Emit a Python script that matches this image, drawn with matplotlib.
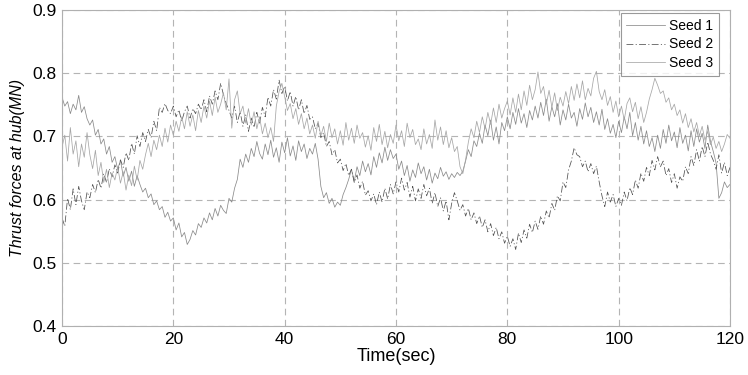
import numpy as np
import matplotlib
matplotlib.use('Agg')
import matplotlib.pyplot as plt

plt.rcParams['font.family'] = ['Liberation Sans', 'DejaVu Sans']

# time axis, 0.5 s steps
t = np.arange(0, 120.5, 0.5)

seed1 = [0.762, 0.748, 0.755, 0.736, 0.751, 0.742, 0.765, 0.738, 0.747, 0.728,
         0.718, 0.726, 0.702, 0.711, 0.688, 0.696, 0.672, 0.684, 0.659, 0.668,
         0.648, 0.662, 0.637, 0.651, 0.629, 0.645, 0.621, 0.638, 0.624, 0.612,
         0.618, 0.603, 0.609, 0.592, 0.598, 0.584, 0.589, 0.572, 0.580, 0.566,
         0.571, 0.552, 0.563, 0.541, 0.548, 0.529, 0.537, 0.551, 0.544, 0.562,
         0.556, 0.571, 0.563, 0.579, 0.568, 0.586, 0.574, 0.591, 0.583, 0.578,
         0.602, 0.596, 0.618, 0.632, 0.664, 0.651, 0.672, 0.659, 0.681, 0.668,
         0.692, 0.673, 0.664, 0.688, 0.671, 0.694, 0.667, 0.682, 0.659, 0.691,
         0.674, 0.698, 0.669, 0.685, 0.662, 0.693, 0.676, 0.688, 0.665, 0.681,
         0.672, 0.689, 0.664, 0.621, 0.603, 0.611, 0.594, 0.602, 0.588, 0.596,
         0.591, 0.608, 0.619, 0.632, 0.648, 0.629, 0.652, 0.638, 0.661, 0.644,
         0.657, 0.639, 0.668, 0.651, 0.674, 0.658, 0.683, 0.662, 0.679, 0.665,
         0.672, 0.648, 0.661, 0.638, 0.654, 0.629, 0.647, 0.635, 0.658, 0.641,
         0.652, 0.631, 0.648, 0.626, 0.642, 0.633, 0.651, 0.637, 0.644, 0.632,
         0.641, 0.635, 0.643, 0.638, 0.645, 0.661, 0.679, 0.668, 0.693, 0.684,
         0.705, 0.689, 0.718, 0.701, 0.726, 0.694, 0.715, 0.688, 0.722, 0.709,
         0.731, 0.712, 0.738, 0.719, 0.744, 0.721, 0.736, 0.714, 0.741, 0.726,
         0.748, 0.729, 0.754, 0.733, 0.759, 0.724, 0.747, 0.731, 0.752, 0.718,
         0.742, 0.726, 0.751, 0.729, 0.738, 0.716, 0.744, 0.727, 0.753, 0.731,
         0.746, 0.722, 0.739, 0.718, 0.743, 0.711, 0.728, 0.705, 0.719, 0.698,
         0.724, 0.706, 0.731, 0.712, 0.738, 0.701, 0.722, 0.694, 0.716, 0.688,
         0.709, 0.684, 0.698, 0.676, 0.702, 0.681, 0.711, 0.689, 0.718, 0.693,
         0.707, 0.682, 0.714, 0.689, 0.702, 0.677, 0.709, 0.684, 0.712, 0.691,
         0.705, 0.681, 0.718, 0.692, 0.676, 0.658, 0.602, 0.611, 0.628, 0.619,
         0.624]

seed2 = [0.571, 0.558, 0.602, 0.584, 0.617, 0.592, 0.621, 0.598, 0.584, 0.612,
         0.603, 0.624, 0.611, 0.632, 0.618, 0.641, 0.627, 0.649, 0.636, 0.655,
         0.642, 0.663, 0.651, 0.674, 0.662, 0.689, 0.672, 0.701, 0.684, 0.706,
         0.692, 0.711, 0.698, 0.724, 0.709, 0.746, 0.738, 0.752, 0.741, 0.736,
         0.748, 0.731, 0.742, 0.724, 0.739, 0.748, 0.729, 0.744, 0.736, 0.751,
         0.742, 0.758, 0.739, 0.764, 0.751, 0.772, 0.758, 0.784, 0.766, 0.752,
         0.741, 0.729, 0.748, 0.722, 0.739, 0.716, 0.734, 0.708, 0.729, 0.714,
         0.738, 0.721, 0.746, 0.731, 0.762, 0.748, 0.774, 0.759, 0.789, 0.768,
         0.779, 0.756, 0.771, 0.748, 0.763, 0.742, 0.758, 0.736, 0.749, 0.727,
         0.731, 0.712, 0.721, 0.698, 0.706, 0.684, 0.692, 0.671, 0.679, 0.658,
         0.664, 0.646, 0.657, 0.638, 0.648, 0.627, 0.639, 0.618, 0.629, 0.607,
         0.614, 0.598, 0.609, 0.592, 0.612, 0.596, 0.618, 0.601, 0.624, 0.609,
         0.628, 0.612, 0.634, 0.615, 0.627, 0.604, 0.621, 0.598, 0.617, 0.602,
         0.624, 0.606, 0.618, 0.594, 0.611, 0.589, 0.603, 0.582, 0.598, 0.568,
         0.594, 0.611, 0.598, 0.583, 0.592, 0.574, 0.586, 0.568, 0.579, 0.562,
         0.574, 0.556, 0.568, 0.549, 0.562, 0.543, 0.556, 0.538, 0.549, 0.531,
         0.542, 0.526, 0.538, 0.521, 0.547, 0.532, 0.552, 0.539, 0.561, 0.548,
         0.566, 0.553, 0.574, 0.561, 0.582, 0.571, 0.594, 0.583, 0.606, 0.598,
         0.628, 0.619, 0.647, 0.661, 0.682, 0.671, 0.668, 0.652, 0.661, 0.644,
         0.657, 0.641, 0.653, 0.628, 0.606, 0.589, 0.612, 0.596, 0.608, 0.589,
         0.602, 0.591, 0.612, 0.598, 0.619, 0.608, 0.631, 0.618, 0.642, 0.629,
         0.651, 0.638, 0.662, 0.647, 0.668, 0.652, 0.661, 0.638, 0.649, 0.627,
         0.641, 0.618, 0.636, 0.629, 0.652, 0.641, 0.668, 0.654, 0.679, 0.661,
         0.684, 0.668, 0.691, 0.672, 0.662, 0.648, 0.671, 0.642, 0.659, 0.638,
         0.651]

seed3 = [0.683, 0.702, 0.661, 0.714, 0.672, 0.693, 0.652, 0.688, 0.667, 0.706,
         0.671, 0.649, 0.678, 0.638, 0.659, 0.627, 0.648, 0.619, 0.642, 0.631,
         0.652, 0.626, 0.644, 0.615, 0.639, 0.622, 0.653, 0.631, 0.662, 0.648,
         0.671, 0.689, 0.668, 0.694, 0.679, 0.702, 0.684, 0.713, 0.691, 0.718,
         0.702, 0.724, 0.708, 0.731, 0.712, 0.739, 0.716, 0.734, 0.709, 0.741,
         0.722, 0.748, 0.729, 0.756, 0.733, 0.762, 0.738, 0.751, 0.769, 0.742,
         0.791, 0.713, 0.758, 0.772, 0.736, 0.748, 0.721, 0.744, 0.718, 0.739,
         0.712, 0.731, 0.704, 0.721, 0.698, 0.714, 0.692, 0.748, 0.771, 0.784,
         0.763, 0.741, 0.752, 0.728, 0.744, 0.719, 0.736, 0.712, 0.729, 0.704,
         0.718, 0.697, 0.724, 0.701, 0.716, 0.692, 0.721, 0.698, 0.712, 0.688,
         0.709, 0.686, 0.722, 0.694, 0.713, 0.689, 0.718, 0.697, 0.706, 0.683,
         0.701, 0.678, 0.714, 0.692, 0.719, 0.687, 0.708, 0.682, 0.703, 0.689,
         0.718, 0.693, 0.709, 0.684, 0.721, 0.698, 0.711, 0.687, 0.696, 0.679,
         0.712, 0.688, 0.703, 0.681, 0.726, 0.694, 0.715, 0.687, 0.709, 0.682,
         0.698, 0.676, 0.684, 0.652, 0.641, 0.663, 0.691, 0.712, 0.698, 0.724,
         0.706, 0.731, 0.712, 0.738, 0.719, 0.745, 0.722, 0.751, 0.729, 0.744,
         0.756, 0.734, 0.761, 0.738, 0.767, 0.742, 0.772, 0.749, 0.781, 0.758,
         0.774, 0.802, 0.768, 0.779, 0.751, 0.773, 0.746, 0.769, 0.741, 0.762,
         0.748, 0.771, 0.752, 0.779, 0.757, 0.783, 0.761, 0.788, 0.758, 0.776,
         0.764, 0.792, 0.803, 0.771, 0.758, 0.774, 0.749, 0.763, 0.738, 0.756,
         0.731, 0.748, 0.726, 0.752, 0.761, 0.739, 0.754, 0.728, 0.747, 0.722,
         0.738, 0.759, 0.774, 0.792, 0.781, 0.768, 0.772, 0.754, 0.761, 0.742,
         0.751, 0.733, 0.742, 0.721, 0.736, 0.714, 0.728, 0.707, 0.722, 0.701,
         0.716, 0.694, 0.708, 0.687, 0.699, 0.681, 0.692, 0.676, 0.688, 0.703,
         0.697]

labels = ['Seed 1', 'Seed 2', 'Seed 3']
xticks = [0, 20, 40, 60, 80, 100, 120]
yticks = [0.4, 0.5, 0.6, 0.7, 0.8, 0.9]

fig = plt.figure(figsize=(7.48, 3.75), dpi=100)
ax = fig.add_axes([62/748, 49/375, 668/748, 316/375])

ax.plot(t, seed1, color='#8a8a8a', lw=0.55, label=labels[0])
ax.plot(t, seed2, color='#505050', lw=0.55, ls=(0, (9, 3, 1.5, 3)), label=labels[1])
ax.plot(t, seed3, color='#a6a6a6', lw=0.55, label=labels[2])

ax.set_xlim(0, 120)
ax.set_ylim(0.4, 0.9)
ax.set_xticks(xticks)
ax.set_yticks(yticks)
ax.set_yticklabels(['%.1f' % v for v in yticks])
ax.grid(True, ls=(0, (6, 4)), color='#b4b4b4', lw=0.8)
ax.tick_params(length=0, labelsize=12.5, pad=4)
for s in ax.spines.values():
    s.set_color('#b0b0b0')
    s.set_linewidth(0.8)

ax.set_xlabel('Time(sec)', fontsize=13, labelpad=1)
ax.set_ylabel('Thrust forces at hub(MN)', fontsize=11.5, style='italic', labelpad=5)

leg = ax.legend(loc='upper right', bbox_to_anchor=(1 - 11/668, 1 - 3/316),
                borderaxespad=0, fancybox=False, fontsize=10, handlelength=2.8,
                handletextpad=0.3, borderpad=0.4, labelspacing=0.35)
leg.get_frame().set_edgecolor('#808080')
leg.get_frame().set_linewidth(0.8)

fig.savefig('out.png', dpi=100)
